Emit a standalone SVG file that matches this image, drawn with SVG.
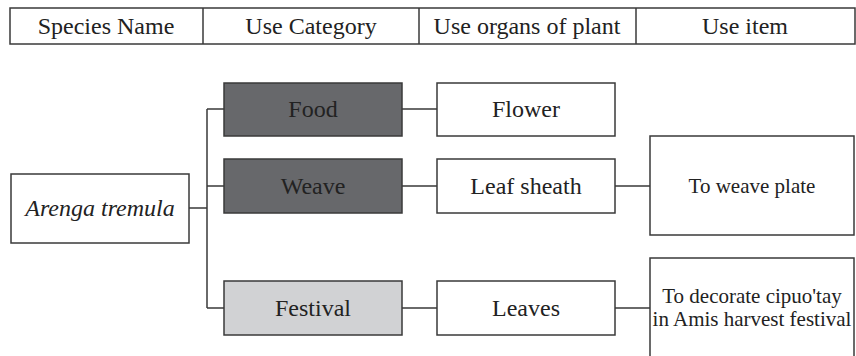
<svg xmlns="http://www.w3.org/2000/svg" width="856" height="356" viewBox="0 0 856 356">
<style>
  .box{stroke:#3a3a3a;stroke-width:1.5;fill:#fff}
  .dark{fill:#67686b}
  .light{fill:#d1d2d4}
  text{font-family:'Liberation Serif','Times New Roman',serif;font-size:24px;fill:#222;text-anchor:middle}
  .s{font-size:21px}
  .i{font-style:italic}
  .c{stroke:#3a3a3a;stroke-width:1.5;fill:none}
</style>
<rect width="856" height="356" fill="#fff"/>
<g id="header">
  <rect x="10" y="8" width="845" height="36" class="box"/>
  <line x1="203" y1="8" x2="203" y2="44" class="c"/>
  <line x1="419" y1="8" x2="419" y2="44" class="c"/>
  <line x1="636" y1="8" x2="636" y2="44" class="c"/>
  <text x="106" y="34">Species Name</text>
  <text x="311" y="34">Use Category</text>
  <text x="527" y="34">Use organs of plant</text>
  <text x="745" y="34">Use item</text>
</g>
<g id="connectors">
  <path d="M189 208H207M207 109V308M207 109H224M207 186H224M207 308H224" class="c"/>
  <path d="M402 109H437M402 186H437M402 308H437" class="c"/>
  <path d="M615 186H650M615 308H650" class="c"/>
</g>
<g id="arenga">
  <rect x="11" y="174" width="178" height="69" class="box"/>
  <text x="100" y="216" class="i">Arenga tremula</text>
</g>
<g id="food">
  <rect x="224" y="83" width="178" height="53" class="box dark"/>
  <text x="313" y="117">Food</text>
</g>
<g id="weave">
  <rect x="224" y="159" width="178" height="54" class="box dark"/>
  <text x="313" y="194">Weave</text>
</g>
<g id="festival">
  <rect x="224" y="281" width="178" height="54" class="box light"/>
  <text x="313" y="316">Festival</text>
</g>
<g id="flower">
  <rect x="437" y="83" width="178" height="53" class="box"/>
  <text x="526" y="117">Flower</text>
</g>
<g id="leafsheath">
  <rect x="437" y="159" width="178" height="54" class="box"/>
  <text x="526" y="194">Leaf sheath</text>
</g>
<g id="leaves">
  <rect x="437" y="281" width="178" height="54" class="box"/>
  <text x="526" y="316">Leaves</text>
</g>
<g id="weaveplate">
  <rect x="650" y="136" width="204" height="99" class="box"/>
  <text x="752" y="193" class="s">To weave plate</text>
</g>
<g id="decorate">
  <rect x="650" y="258" width="204" height="110" class="box"/>
  <text x="752" y="303" class="s">To decorate cipuo'tay</text>
  <text x="752" y="326" class="s">in Amis harvest festival</text>
</g>
</svg>
